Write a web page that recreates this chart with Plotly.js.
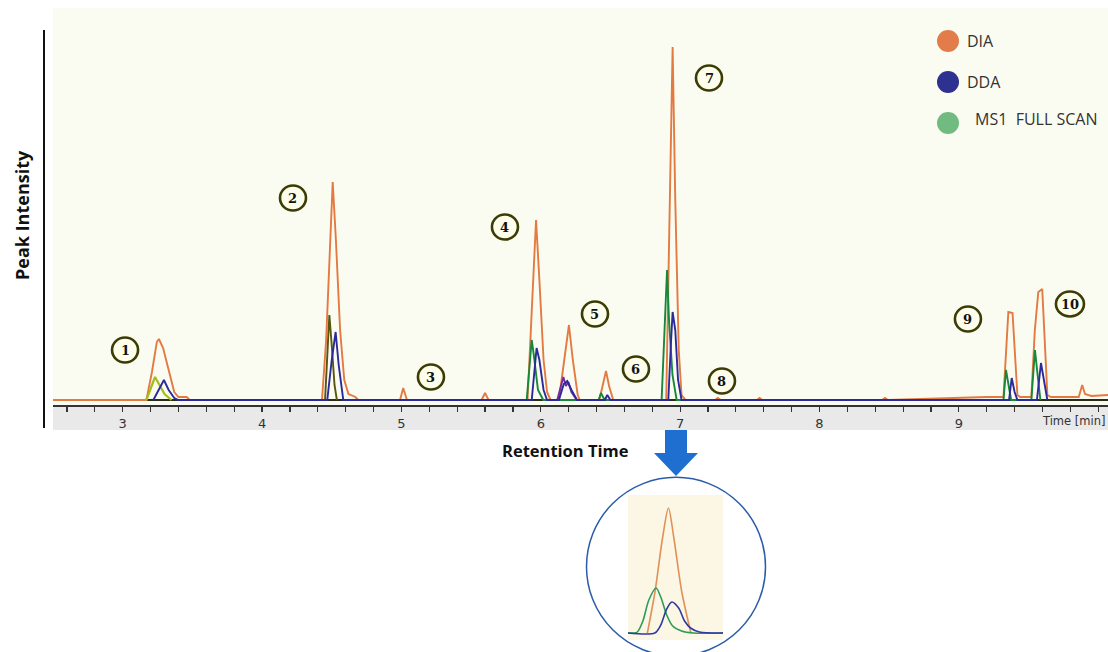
<!DOCTYPE html>
<html>
<head>
<meta charset="utf-8">
<script src="https://cdn.plot.ly/plotly-3.0.1.min.js"></script>
<style>html,body{margin:0;padding:0;background:#fff;}#chart{width:1108px;height:652px;}</style>
</head>
<body>
<div id="chart"></div>
<script>
// ---------- data (retention time in min, intensity in arbitrary units) ----------
const baseT = [2.5, 10.07];
const baseY = [0, 0];

const diaT = [2.50,3.17,3.21,3.245,3.26,3.29,3.33,3.37,3.40,3.46,3.48,
  4.43,4.46,4.49,4.507,4.53,4.56,4.59,4.62,4.67,4.69,
  4.99,5.013,5.04,5.575,5.60,5.625,
  5.905,5.935,5.966,5.99,6.02,6.045,6.07,
  6.13,6.17,6.202,6.23,6.265,6.28,
  6.42,6.445,6.468,6.49,6.52,
  6.90,6.92,6.946,6.965,6.99,7.01,7.04,
  7.25,7.27,7.29,7.55,7.57,7.59,8.45,8.47,8.49,8.9,9.0,9.2,
  9.32,9.34,9.355,9.385,9.40,9.42,9.44,
  9.52,9.545,9.57,9.598,9.615,9.635,9.66,
  9.86,9.885,9.905,9.95,10.07];
const diaY = [0,0,28,58,61,52,30,8,3,3,0,
  0,60,170,218,160,70,20,6,3,0,
  0,12,0,0,7,0,
  0,90,180,120,40,8,0,
  0,40,75,40,5,0,
  0,15,29,14,0,
  0,150,353,200,50,5,0,
  0,2,0,0,2,0,0,2,0,2,2,3,
  3,60,88,87,50,5,3,
  3,70,108,111,60,5,3,
  3,15,6,4,5];

const ddaT = [3.22,3.27,3.296,3.33,3.37,3.40,
  4.468,4.50,4.528,4.55,4.583,
  5.935,5.955,5.970,5.99,6.02,6.045,
  6.13,6.165,6.19,6.22,6.26,
  6.46,6.477,6.50,
  6.915,6.935,6.946,6.965,6.985,7.01,
  9.36,9.379,9.40,9.42,
  9.56,9.589,9.61,9.635];
const ddaY = [0,14,20,10,2,0,
  0,40,68,35,0,
  0,30,52,40,10,0,
  0,16,19,10,0,
  0,5,0,
  0,60,88,70,20,0,
  0,22,8,0,
  0,37,20,0];

const ms1T = [5.899,5.915,5.935,5.95,5.98,6.018,
  6.415,6.432,6.45,6.47,
  6.867,6.885,6.906,6.92,6.945,6.975,
  9.32,9.338,9.355,9.375,
  9.52,9.546,9.565,9.585];
const ms1Y = [0,25,60,45,10,0,
  0,7,2,0,
  0,60,130,80,25,0,
  0,30,15,0,
  0,50,25,0];

const ms1bT = [3.17,3.21,3.232,3.26,3.30,3.35];   // peak 1 MS1 trace
const ms1bY = [0,15,23,16,6,0];
const ms1cT = [4.452,4.47,4.483,4.50,4.52,4.537]; // peak 2 MS1 trace
const ms1cY = [0,50,85,55,15,0];
const extraT = [6.118,6.14,6.162,6.18,6.198,6.22,6.258]; // peak 5 extra DDA trace
const extraY = [0,12,23,14,18,8,0];

// inset (zoom of peak 7)
const inDiaT = [6.8925,6.905,6.918,6.9279,6.937,6.95,6.9656];
const inDiaY = [0,40,95,125,95,42,0];
const inMs1T = [6.86,6.87,6.8757,6.885,6.895,6.9072,6.915,6.925,6.935,6.95,6.97,7.0195];
const inMs1Y = [0,0,1,12,33,45,36,18,7,2,0,0];
const inDdaT = [6.86,6.905,6.915,6.925,6.9336,6.945,6.955,6.965,6.98,7.0195];
const inDdaY = [0,0,8,24,31,25,12,5,1,0];

// tick labels
const tickVals = [2.6,2.8,3,3.2,3.4,3.6,3.8,4,4.2,4.4,4.6,4.8,5,5.2,5.4,5.6,5.8,6,6.2,6.4,6.6,6.8,7,7.2,7.4,7.6,7.8,8,8.2,8.4,8.6,8.8,9,9.2,9.4,9.6,9.8,10];
const tickText = tickVals.map(v => (Number.isInteger(v) && v < 10) ? String(v) : '');

// peak labels
const peakLabels = ['1','2','3','4','5','6','7','8','9','10'];
const peakLabelT = [3.017,4.222,5.212,5.743,6.389,6.683,7.207,7.300,9.065,9.797];
const peakLabelY = [50,202,23,173,86,31,322,19,81,96];

// legend
const legendNames = ['DIA','DDA','MS1  FULL SCAN'];
const legendColors = ['#e27c4a','#2f3190','#72bb80'];

// ---------- helpers ----------
const W = 1108, H = 652;
const px = x => x / W;
const py = y => 1 - y / H;

const cDIA = '#e27a42', cDDA = '#2a2a9e', cMS1 = '#17873a';

function line(x, y, color, width, xa, ya, shape) {
  return {x: x, y: y, type: 'scatter', mode: 'lines', showlegend: false, hoverinfo: 'skip',
    line: {color: color, width: width, shape: shape || 'linear', smoothing: 0.8}, xaxis: xa, yaxis: ya};
}

const traces = [
  line(baseT, baseY, '#2b2b16', 2.2, 'x', 'y'),
  line(diaT, diaY, cDIA, 1.9, 'x', 'y'),
  line(ms1cT, ms1cY, '#5a5410', 1.9, 'x', 'y'),
  line(ms1bT, ms1bY, '#a5bd1c', 2.2, 'x', 'y'),
  line(ms1T, ms1Y, cMS1, 1.9, 'x', 'y'),
  line(extraT, extraY, '#7a2a9c', 1.9, 'x', 'y'),
  line(ddaT, ddaY, cDDA, 1.9, 'x', 'y'),
  line(inDiaT, inDiaY, '#e0915a', 1.6, 'x2', 'y2', 'spline'),
  line(inMs1T, inMs1Y, '#2f9a5a', 1.6, 'x2', 'y2', 'spline'),
  line(inDdaT, inDdaY, '#2f3aa0', 1.6, 'x2', 'y2', 'spline')
];

const shapes = [
  // plot background
  {type:'rect', xref:'paper', yref:'paper', x0:px(53), x1:1, y0:py(405), y1:py(8), fillcolor:'#fbfcf1', line:{width:0}, layer:'below'},
  // gray axis strip
  {type:'rect', xref:'paper', yref:'paper', x0:px(53), x1:1, y0:py(430), y1:py(406), fillcolor:'#e9e9e9', line:{width:0}, layer:'below'},
  // y axis line
  {type:'line', xref:'paper', yref:'paper', x0:px(44), x1:px(44), y0:py(428), y1:py(30), line:{color:'#111', width:2}},
  // arrow
  {type:'path', xref:'paper', yref:'paper',
   path:`M ${px(665)},${py(430)} L ${px(687)},${py(430)} L ${px(687)},${py(453)} L ${px(698)},${py(453)} L ${px(676)},${py(476)} L ${px(654)},${py(453)} L ${px(665)},${py(453)} Z`,
   fillcolor:'#1f6fd1', line:{width:0}},
  // inset background
  {type:'rect', xref:'paper', yref:'paper', x0:px(628), x1:px(723), y0:py(640), y1:py(495), fillcolor:'#fbf7e4', line:{width:0}, layer:'below'},
  // inset circle
  {type:'circle', xref:'paper', yref:'paper', x0:px(586.5), x1:px(765.5), y0:py(656), y1:py(477.3), line:{color:'#2a5ca8', width:1.5}, fillcolor:'rgba(0,0,0,0)'}
];

// legend circles
legendNames.forEach((n, i) => {
  const cy = 41 + i * 41;
  shapes.push({type:'circle', xref:'paper', yref:'paper', x0:px(937), x1:px(959), y0:py(cy + 11), y1:py(cy - 11), fillcolor:legendColors[i], line:{width:0}});
});

// peak label circles
peakLabels.forEach((t, i) => {
  const r = t.length > 1 ? 14 : 13;
  shapes.push({type:'circle', xref:'x', yref:'y', xsizemode:'pixel', ysizemode:'pixel',
    xanchor:peakLabelT[i], yanchor:peakLabelY[i], x0:-r, x1:r, y0:-12.5, y1:12.5,
    line:{color:'#3c3c05', width:2.6}, fillcolor:'#fdfdec', layer:'above'});
});

const annotations = [
  {xref:'paper', yref:'paper', x:px(22), y:py(215), xanchor:'center', yanchor:'middle', text:'<b>Peak Intensity</b>', textangle:-90, showarrow:false,
   font:{family:'Open Sans, sans-serif', size:18, color:'#111'}},
  {xref:'paper', yref:'paper', x:px(565), y:py(450), xanchor:'center', yanchor:'middle', text:'<b>Retention Time</b>', showarrow:false,
   font:{family:'Open Sans, sans-serif', size:16.5, color:'#111'}},
  {xref:'paper', yref:'paper', x:px(1107), y:py(421), xanchor:'right', yanchor:'middle', text:'Time [min]', showarrow:false,
   font:{family:'DejaVu Sans, sans-serif', size:11.5, color:'#333'}}
];
legendNames.forEach((n, i) => {
  annotations.push({xref:'paper', yref:'paper', x:px(i === 2 ? 973 : 965), y:py(41 + i * 41 - (i === 2 ? 4 : 0)), xanchor:'left', yanchor:'middle', text:n, showarrow:false,
    font:{family:'Open Sans, sans-serif', size:16, color:'#333'}});
});
peakLabels.forEach((t, i) => {
  annotations.push({xref:'x', yref:'y', x:peakLabelT[i], y:peakLabelY[i], xanchor:'center', yanchor:'middle', text:'<b>' + t + '</b>', showarrow:false,
    font:{family:'DejaVu Serif, serif', size:13, color:'#111'}});
});

const layout = {
  width: W, height: H,
  margin: {l:0, r:0, t:0, b:0},
  paper_bgcolor: '#ffffff',
  plot_bgcolor: 'rgba(0,0,0,0)',
  showlegend: false,
  xaxis: {domain:[px(53), 1], range:[2.5, 10.07], showgrid:false, zeroline:false,
    showline:true, linecolor:'#333', linewidth:2, ticks:'outside', ticklen:5, tickwidth:1.2, tickcolor:'#333',
    tickmode:'array', tickvals:tickVals, ticktext:tickText,
    tickfont:{family:'DejaVu Sans, sans-serif', size:13, color:'#333'}, anchor:'y'},
  yaxis: {domain:[py(405), py(10)], range:[-5, 390], visible:false, anchor:'x'},
  xaxis2: {domain:[px(628), px(723)], range:[6.86, 7.0195], visible:false, anchor:'y2'},
  yaxis2: {domain:[py(640), py(495)], range:[-7, 138], visible:false, anchor:'x2'},
  shapes: shapes,
  annotations: annotations
};

Plotly.newPlot('chart', traces, layout, {staticPlot:true, displayModeBar:false});
</script>
</body>
</html>
